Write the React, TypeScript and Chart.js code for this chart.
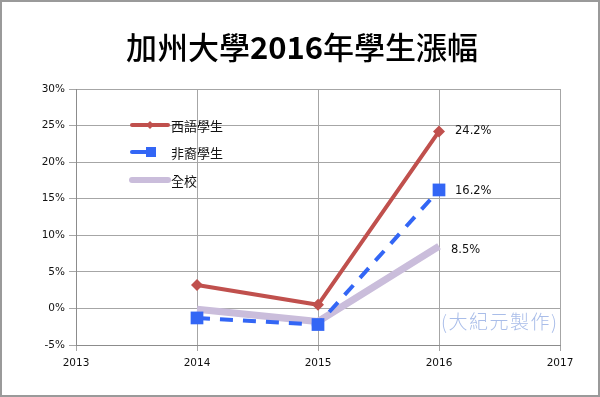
import React, { useEffect, useRef } from "react";
import { Chart, registerables } from "chart.js";

Chart.register(...registerables);

const years = [2014, 2015, 2016];
const hispanic = [3.2, 0.5, 24.2];
const african = [-1.3, -2.2, 16.2];
const overall = [-0.1, -1.8, 8.5];
const seriesNames = ["西語學生", "非裔學生", "全校"];
const endLabels = ["24.2%", "16.2%", "8.5%"];
const titleParts = ["加州大學", "2016", "年學生漲幅"];
const watermark = "(大紀元製作)";
const xMin = 2013;
const xMax = 2017;
const yMin = -5;
const yMax = 30;

const RED = "#c0504d";
const BLUE = "#3366f5";
const LAV = "#cabddb";

const toPts = (vals: number[]) => vals.map((v, i) => ({ x: years[i], y: v }));

const decor = {
  id: "decor",
  afterDraw(chart: any) {
    const ctx = chart.ctx;
    ctx.save();
    ctx.strokeStyle = "#9a9a9a";
    ctx.lineWidth = 2;
    ctx.strokeRect(1, 1, chart.width - 2, chart.height - 2);
    ctx.fillStyle = "#000";
    ctx.textBaseline = "middle";
    ctx.textAlign = "left";
    const fonts = [
      "500 31px 'Noto Sans CJK TC'",
      "bold 31px 'Noto Sans CJK TC'",
      "500 31px 'Noto Sans CJK TC'",
    ];
    let total = 0;
    const widths = titleParts.map((t, i) => {
      ctx.font = fonts[i];
      const w = ctx.measureText(t).width;
      total += w;
      return w;
    });
    let tx = 302 - total / 2;
    titleParts.forEach((t, i) => {
      ctx.font = fonts[i];
      ctx.fillText(t, tx, 47);
      tx += widths[i];
    });
    ctx.font = "11.5px 'DejaVu Sans'";
    ctx.textAlign = "left";
    ctx.fillStyle = "#111";
    const offs = [
      [16, 0],
      [16, 1],
      [12, 4],
    ];
    chart.data.datasets.forEach((ds: any, i: number) => {
      const meta = chart.getDatasetMeta(i);
      const p = meta.data[meta.data.length - 1];
      ctx.fillText(endLabels[i], p.x + offs[i][0], p.y + offs[i][1]);
    });
    ctx.font = "13px 'Noto Sans CJK TC'";
    ctx.textBaseline = "middle";
    const ly = [125, 152, 180];
    ctx.strokeStyle = RED;
    ctx.lineWidth = 4;
    ctx.lineCap = "round";
    ctx.beginPath();
    ctx.moveTo(132, ly[0]);
    ctx.lineTo(168, ly[0]);
    ctx.stroke();
    ctx.fillStyle = RED;
    ctx.beginPath();
    ctx.moveTo(150, ly[0] - 4);
    ctx.lineTo(154, ly[0]);
    ctx.lineTo(150, ly[0] + 4);
    ctx.lineTo(146, ly[0]);
    ctx.closePath();
    ctx.fill();
    ctx.strokeStyle = BLUE;
    ctx.beginPath();
    ctx.moveTo(132, ly[1]);
    ctx.lineTo(148, ly[1]);
    ctx.stroke();
    ctx.fillStyle = BLUE;
    ctx.fillRect(146, ly[1] - 5, 10, 10);
    ctx.strokeStyle = LAV;
    ctx.lineWidth = 6;
    ctx.beginPath();
    ctx.moveTo(132, ly[2]);
    ctx.lineTo(168, ly[2]);
    ctx.stroke();
    ctx.fillStyle = "#111";
    seriesNames.forEach((n, i) => ctx.fillText(n, 171, ly[i] + 1));
    ctx.font = "300 19px 'Noto Sans CJK TC'";
    ctx.fillStyle = "#a9bde9";
    ctx.textAlign = "left";
    (ctx as any).letterSpacing = "1.5px";
    ctx.fillText(watermark, 441, 322);
    ctx.restore();
  },
};

export default function App() {
  const ref = useRef<HTMLCanvasElement | null>(null);
  useEffect(() => {
    document.body.style.margin = "0";
    const chart = new Chart(ref.current as HTMLCanvasElement, {
      type: "line",
      data: {
        datasets: [
          {
            label: seriesNames[0],
            data: toPts(hispanic),
            borderColor: RED,
            backgroundColor: RED,
            borderWidth: 4,
            pointStyle: "rectRot",
            pointRadius: 6,
            pointBorderWidth: 0,
            order: 1,
          },
          {
            label: seriesNames[1],
            data: toPts(african),
            borderColor: BLUE,
            backgroundColor: BLUE,
            borderWidth: 4,
            borderDash: [13, 10],
            pointStyle: "rect",
            pointRadius: 9,
            pointBorderWidth: 0,
            order: 2,
          },
          {
            label: seriesNames[2],
            data: toPts(overall),
            borderColor: LAV,
            backgroundColor: LAV,
            borderWidth: 7,
            pointRadius: 0,
            order: 3,
          },
        ],
      },
      options: {
        animation: false,
        responsive: false,
        maintainAspectRatio: false,
        layout: { padding: { top: 89, right: 40, left: 0, bottom: 0 } },
        plugins: { legend: { display: false }, title: { display: false }, tooltip: { enabled: false } },
        scales: {
          x: {
            type: "linear",
            min: xMin,
            max: xMax,
            ticks: {
              stepSize: 1,
              color: "#111",
              font: { family: "DejaVu Sans", size: 10.5 },
              padding: 6,
              callback: (v: any) => String(v),
            },
            grid: { color: "#a6a6a6", lineWidth: 1, tickLength: 6, drawTicks: true },
            border: { color: "#8c8c8c", width: 1 },
            afterFit: (s: any) => {
              s.height = 52;
            },
          },
          y: {
            min: yMin,
            max: yMax,
            ticks: {
              stepSize: 5,
              color: "#111",
              font: { family: "DejaVu Sans", size: 10.5 },
              padding: 4,
              callback: (v: any) => v + "%",
            },
            grid: { color: "#a6a6a6", lineWidth: 1, tickLength: 7, drawTicks: true },
            border: { color: "#8c8c8c", width: 1 },
            afterFit: (s: any) => {
              s.width = 76;
            },
          },
        },
      },
      plugins: [decor],
    });
    return () => chart.destroy();
  }, []);
  return (
    <div style={{ width: 600, height: 397, background: "#fff" }}>
      <canvas ref={ref} width={600} height={397} style={{ display: "block" }} />
    </div>
  );
}
